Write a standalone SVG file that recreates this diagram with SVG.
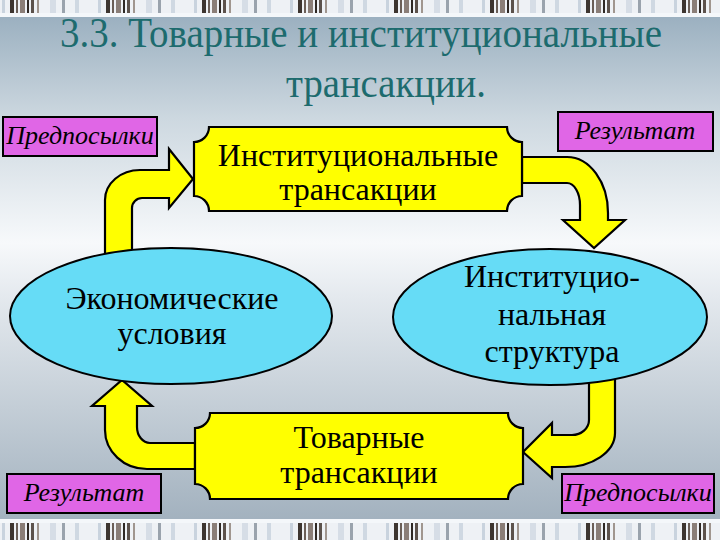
<svg xmlns="http://www.w3.org/2000/svg" width="720" height="540" viewBox="0 0 720 540">
<defs>
<linearGradient id="bg" x1="0" y1="0" x2="0" y2="540" gradientUnits="userSpaceOnUse">
<stop offset="0.03" stop-color="#9bb0c0"/>
<stop offset="0.22" stop-color="#cdd8e0"/>
<stop offset="0.45" stop-color="#f7f9fb"/>
<stop offset="0.55" stop-color="#e4e9ee"/>
<stop offset="0.96" stop-color="#a3b2bf"/>
</linearGradient>
<pattern id="bars" width="96" height="540" patternUnits="userSpaceOnUse">
<rect width="96" height="540" fill="#eef1f5"/>
<rect x="2" width="3" height="540" fill="#c9d3de"/>
<rect x="10" width="4" height="540" fill="#3d3530"/>
<rect x="16" width="2" height="540" fill="#6b5f58"/>
<rect x="20" width="5" height="540" fill="#8a7e78"/>
<rect x="27" width="2" height="540" fill="#2e2824"/>
<rect x="31" width="3" height="540" fill="#5c524c"/>
<rect x="37" width="2" height="540" fill="#a0968f"/>
<rect x="50" width="6" height="540" fill="#d6dde6"/>
<rect x="62" width="3" height="540" fill="#9aa3ad"/>
<rect x="75" width="4" height="540" fill="#cfd8e2"/>
</pattern>
<style>
.arrow{fill:#ffff00;stroke:#000;stroke-width:2.2;stroke-linejoin:miter}
.plaque{fill:#ffff00;stroke:#000;stroke-width:2.2}
.oval{fill:#66dcf6;stroke:#000;stroke-width:2}
.pink{fill:#e066e6;stroke:#000;stroke-width:2}
.t{font-family:"Liberation Serif","Times New Roman",serif;fill:#000;text-anchor:middle}
.big{font-size:32px}
.lbl{font-size:26px;font-style:italic}
.title{font-family:"Liberation Serif","Times New Roman",serif;fill:#1d6b6e;font-size:42px;text-anchor:middle}
</style>
</defs>
<rect width="720" height="540" fill="url(#bg)"/>
<rect x="0" y="0" width="720" height="13" fill="url(#bars)"/>
<rect x="0" y="13" width="720" height="4" fill="#f4f7fa"/>
<rect x="0" y="519" width="720" height="4" fill="#f4f7fa"/>
<rect x="0" y="523" width="720" height="17" fill="url(#bars)"/>

<g id="title">
<text class="title" x="361" y="47" textLength="602" lengthAdjust="spacingAndGlyphs">3.3. Товарные и институциональные</text>
<text class="title" x="386" y="97" textLength="200" lengthAdjust="spacingAndGlyphs">трансакции.</text>
</g>

<g id="connectors">
<path class="arrow" d="M105,265 L105,200 A35,30 0 0 1 140,170 L169,170 L169,149 L193,179 L169,208 L169,198 L142,198 A10,10 0 0 0 132,208 L132,265 Z"/>
<path class="arrow" d="M522,157 L567,157 A41,56 0 0 1 608,213 L608,220 L625,220 L594,248 L563,220 L580,220 L580,205 A13,22 0 0 0 567,183 L522,183 Z"/>
<path class="arrow" d="M195,443 L150,443 A13,16 0 0 1 137,427 L137,406 L152,406 L122,380 L92,406 L105,406 L105,430 A42,39 0 0 0 147,469 L195,469 Z"/>
<path class="arrow" d="M589,370 L589,420 A17,15 0 0 1 572,435 L552,435 L552,423 L523,452 L552,478 L552,467 L565,467 A50,34 0 0 0 615,433 L615,370 Z"/>
</g>

<g id="inst-trans">
<path class="plaque" d="M209,127 L507,127 A15,15 0 0 0 522,142 L522,196 A15,15 0 0 0 507,211 L209,211 A15,15 0 0 0 194,196 L194,142 A15,15 0 0 0 209,127 Z"/>
<text class="t big" x="358" y="166">Институциональные</text>
<text class="t big" x="358" y="200">трансакции</text>
</g>

<g id="goods-trans">
<path class="plaque" d="M210,413 L508,413 A15,15 0 0 0 523,428 L523,484 A15,15 0 0 0 508,499 L210,499 A15,15 0 0 0 195,484 L195,428 A15,15 0 0 0 210,413 Z"/>
<text class="t big" x="359" y="448">Товарные</text>
<text class="t big" x="359" y="483">трансакции</text>
</g>

<g id="econ">
<ellipse class="oval" cx="171" cy="316" rx="161" ry="68"/>
<text class="t big" x="172" y="309">Экономические</text>
<text class="t big" x="172" y="344">условия</text>
</g>

<g id="inst-struct">
<ellipse class="oval" cx="550" cy="317" rx="157" ry="68"/>
<text class="t big" x="552" y="287">Институцио-</text>
<text class="t big" x="552" y="325">нальная</text>
<text class="t big" x="552" y="362">структура</text>
</g>

<g id="pre-top">
<rect class="pink" x="3" y="117" width="154" height="39"/>
<text class="t lbl" x="80" y="144">Предпосылки</text>
</g>
<g id="res-top">
<rect class="pink" x="558" y="112" width="155" height="39"/>
<text class="t lbl" x="635" y="139">Результат</text>
</g>
<g id="res-bottom">
<rect class="pink" x="7" y="474" width="154" height="39"/>
<text class="t lbl" x="84" y="501">Результат</text>
</g>
<g id="pre-bottom">
<rect class="pink" x="562" y="474" width="152" height="39"/>
<text class="t lbl" x="638" y="501">Предпосылки</text>
</g>
</svg>
